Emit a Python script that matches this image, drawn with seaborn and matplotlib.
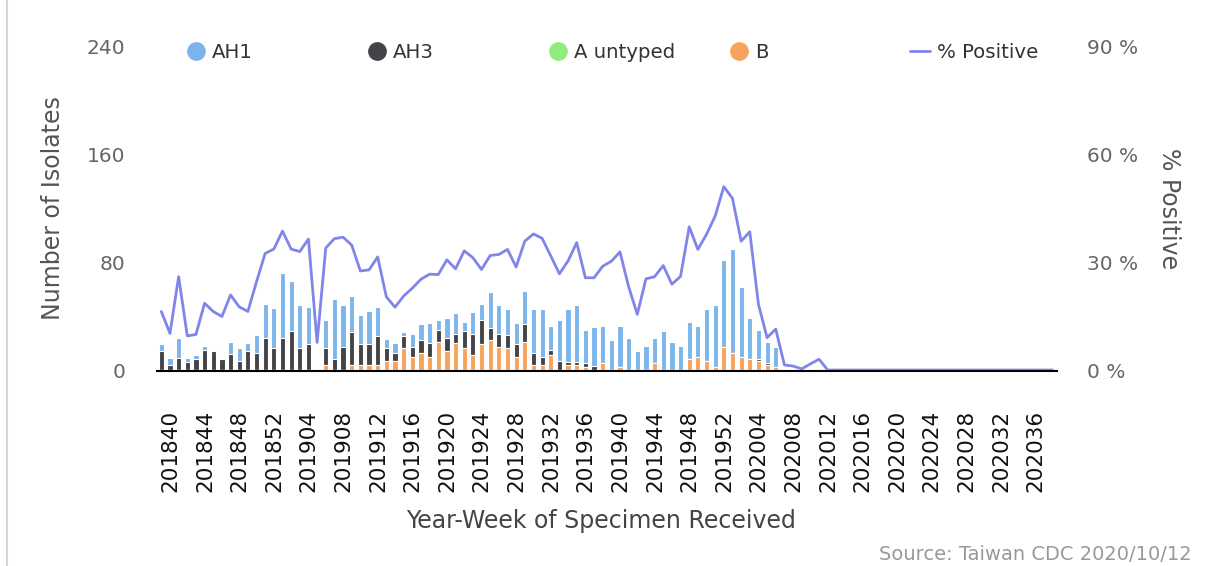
import matplotlib
matplotlib.use("Agg")
import matplotlib.pyplot as plt
import seaborn as sns
import numpy as np
import pandas as pd
from matplotlib.lines import Line2D
from matplotlib.transforms import ScaledTranslation

# ---------------- data ----------------
weeks = ([f"2018{w:02d}" for w in range(40, 53)]
         + [f"2019{w:02d}" for w in range(1, 53)]
         + [f"2020{w:02d}" for w in range(1, 40)])

ah1 = [5, 5, 15, 3, 3, 3, 0, 0, 9, 9, 6, 13, 25, 30, 48, 37, 32, 28, 0, 21,
       45, 31, 27, 22, 25, 22, 7, 7, 3, 10, 12, 15, 7, 15, 15, 7, 16, 12, 27, 21,
       19, 16, 25, 32, 35, 18, 30, 39, 42, 25, 29, 28, 22, 31, 24, 14, 18, 19, 29, 21,
       18, 28, 23, 38, 46, 65, 77, 52, 31, 22, 16, 15, 0, 0, 0, 0, 1, 0, 0, 0,
       0, 0, 0, 0, 0, 0, 0, 0, 0, 0, 0, 0, 0, 0, 0, 0, 0, 0, 0, 0,
       0, 0, 0, 0]
ah3 = [14, 4, 9, 6, 8, 15, 14, 8, 12, 7, 14, 13, 24, 16, 24, 29, 16, 19, 0, 12,
       8, 17, 24, 15, 15, 21, 9, 6, 9, 7, 9, 10, 9, 10, 7, 13, 16, 18, 9, 10,
       10, 9, 13, 9, 6, 4, 7, 2, 2, 3, 3, 0, 0, 0, 0, 0, 0, 0, 0, 0,
       0, 0, 0, 0, 0, 0, 0, 0, 0, 1, 1, 0, 0, 0, 0, 0, 0, 0, 0, 0,
       0, 0, 0, 0, 0, 0, 0, 0, 0, 0, 0, 0, 0, 0, 0, 0, 0, 0, 0, 0,
       0, 0, 0, 0]
a_untyped = [0] * 104
b = [0, 0, 0, 0, 0, 0, 0, 0, 0, 0, 0, 0, 0, 0, 0, 0, 0, 0, 0, 4,
     0, 0, 4, 4, 4, 4, 7, 7, 16, 10, 13, 10, 21, 14, 20, 16, 11, 19, 22, 17,
     16, 10, 21, 4, 4, 11, 0, 4, 4, 2, 0, 5, 0, 2, 0, 0, 0, 5, 0, 0,
     0, 8, 10, 7, 2, 17, 13, 10, 8, 7, 4, 2, 0, 0, 0, 0, 0, 0, 0, 0,
     0, 0, 0, 0, 0, 0, 0, 0, 0, 0, 0, 0, 0, 0, 0, 0, 0, 0, 0, 0,
     0, 0, 0, 0]
pct_positive = [16.3, 10.2, 26.0, 9.5, 9.9, 18.6, 16.3, 14.9, 20.9, 17.6,
                16.3, 24.6, 32.5, 33.7, 38.7, 33.7, 33.0, 36.5, 7.7, 34.0,
                36.6, 37.0, 34.8, 27.6, 27.9, 31.5, 20.4, 17.5, 20.6, 22.8,
                25.3, 26.7, 26.6, 30.7, 28.2, 33.2, 31.3, 28.0, 31.9, 32.2,
                33.6, 28.7, 35.9, 37.9, 36.7, 31.8, 26.8, 30.4, 35.5, 25.7,
                25.7, 28.9, 30.3, 32.9, 23.2, 15.5, 25.4, 26.0, 29.1, 23.9,
                26.1, 39.9, 33.6, 37.8, 42.9, 51.1, 47.8, 35.9, 38.5, 18.3,
                9.0, 11.4, 1.4, 1.1, 0.3, 1.7, 3.0, 0.0, 0.0, 0.0,
                0.0, 0.0, 0.0, 0.0, 0.0, 0.0, 0.0, 0.0, 0.0, 0.0,
                0.0, 0.0, 0.0, 0.0, 0.0, 0.0, 0.0, 0.0, 0.0, 0.0,
                0.0, 0.0, 0.0, 0.0]

series_names = ["AH1", "AH3", "A untyped", "B"]
series_colors = ["#7cb5ec", "#434348", "#90ed7d", "#f7a35c"]
line_name = "% Positive"
line_color = "#8085e9"
left_ticks = [0, 80, 160, 240]
right_ticks = [0, 30, 60, 90]

# ---------------- figure ----------------
sns.set_style("white")
plt.rcParams["font.family"] = ["DejaVu Sans"]

W, H = 1214, 566
fig = plt.figure(figsize=(W / 100, H / 100), dpi=100)
ax = fig.add_axes([157 / W, 1 - 370 / H, 900 / W, 323 / H])

df = pd.DataFrame({"week": weeks, "AH1": ah1, "AH3": ah3,
                   "A untyped": a_untyped, "B": b})
# cumulative stacks (B at bottom, AH1 on top)
df["s_B"] = df["B"]
df["s_A untyped"] = df["s_B"] + df["A untyped"]
df["s_AH3"] = df["s_A untyped"] + df["AH3"]
df["s_AH1"] = df["s_AH3"] + df["AH1"]

for name, color in zip(series_names, series_colors):
    sns.barplot(data=df, x="week", y="s_" + name, color=color, order=weeks,
                width=0.6, saturation=1, edgecolor="white", linewidth=0.8,
                errorbar=None, ax=ax)

# spines first (set_position resets tick settings)
for s in ["left", "right", "top"]:
    ax.spines[s].set_visible(False)
ax.spines["bottom"].set_position(("outward", 1))
ax.spines["bottom"].set_color("black")
ax.spines["bottom"].set_linewidth(1.5)
ax.grid(False)

N = len(weeks)
ax.set_xlim(-0.5, N - 0.5)
ax.set_ylim(0, 240)
ax.set_yticks(left_ticks)
ax.set_yticklabels([str(t) for t in left_ticks])
ax.set_xticks(range(0, N, 4))
ax.set_xticklabels(weeks[::4], rotation=90, ha="center", va="top")
ax.tick_params(axis="x", length=0, pad=27.8, labelsize=15.5, labelcolor="#111111")
ax.tick_params(axis="y", length=0, pad=23, labelsize=14.5, labelcolor="#666666")
for lbl in ax.get_xticklabels():
    lbl.set_transform(lbl.get_transform() + ScaledTranslation(9 / 100, 0, fig.dpi_scale_trans))

ax.set_xlabel("Year-Week of Specimen Received", fontsize=17, color="#444444",
              va="center", ha="center")
ax.xaxis.set_label_coords((601.5 - 157) / 900, -(521 - 370) / 323)
ax.set_ylabel("Number of Isolates", fontsize=17, color="#555555",
              va="center", ha="center")
ax.yaxis.set_label_coords((53 - 157) / 900, 0.5)

# secondary axis
ax2 = ax.twinx()
sns.lineplot(x=np.arange(N), y=pct_positive, ax=ax2, color=line_color,
             linewidth=2)
ax2.set_ylim(0, 90)
ax2.set_xlim(-0.5, N - 0.5)
ax2.set_yticks(right_ticks)
ax2.set_yticklabels([f"{t} %" for t in right_ticks])
ax2.tick_params(axis="y", length=0, pad=21.6, labelsize=14.5, labelcolor="#666666")
for s in ["left", "right", "top", "bottom"]:
    ax2.spines[s].set_visible(False)
ax2.grid(False)
ax2.set_ylabel(line_name, fontsize=17, color="#555555", rotation=270,
               va="center", ha="center")
ax2.yaxis.set_label_coords((1169 - 157) / 900, 0.5)

# legend: individual entries at fixed positions
legend_x = [186.3, 367.3, 548.3, 729.3]
ly = 1 - 52 / H
for name, color, lx in zip(series_names, series_colors, legend_x):
    h = Line2D([], [], marker="o", linestyle="none", markersize=13.5,
               markerfacecolor=color, markeredgewidth=0)
    fig.legend(handles=[h], labels=[name], loc="center left",
               bbox_to_anchor=(lx / W, ly), frameon=False, fontsize=14.2,
               labelcolor="#333333", handlelength=1.0, handletextpad=0.3,
               borderpad=0, borderaxespad=0)
hl = Line2D([], [], color=line_color, linewidth=2)
fig.legend(handles=[hl], labels=[line_name], loc="center left",
           bbox_to_anchor=(910 / W, ly), frameon=False, fontsize=14.2,
           labelcolor="#333333", handlelength=1.03, handletextpad=0.36,
           borderpad=0, borderaxespad=0)

fig.text(1192 / W, 1 - 554 / H, "Source: Taiwan CDC 2020/10/12", ha="right",
         va="center", fontsize=14, color="#999999")
fig.add_artist(Line2D([7.3 / W, 7.3 / W], [0, 1], color="#d6d6d6", linewidth=1.5))

fig.savefig("out.png", dpi=100)
